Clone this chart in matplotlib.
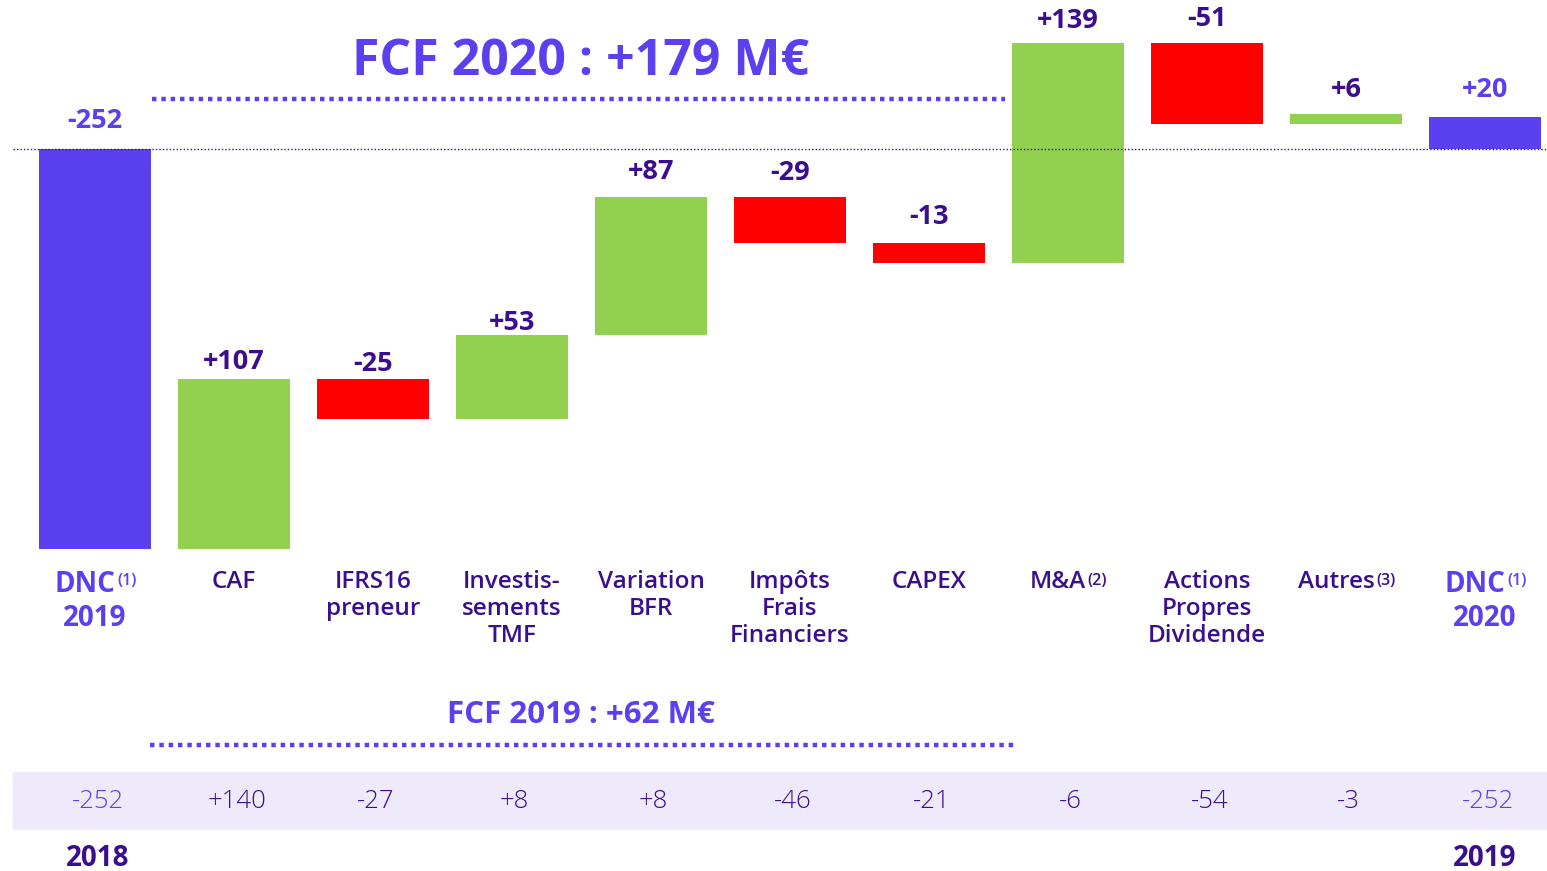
import matplotlib
matplotlib.use("Agg")
import matplotlib.pyplot as plt
from matplotlib.transforms import blended_transform_factory, offset_copy

# ---------------- data ----------------
categories = ["DNC\n2019", "CAF", "IFRS16\npreneur", "Investis-\nsements\nTMF",
              "Variation\nBFR", "Impôts\nFrais\nFinanciers", "CAPEX", "M&A",
              "Actions\nPropres\nDividende", "Autres", "DNC\n2020"]
superscripts = ["(1)", "", "", "", "", "", "", "(2)", "", "(3)", "(1)"]
start_value = -252
deltas = [107, -25, 53, 87, -29, -13, 139, -51, 6]
end_value = 20
bar_labels = ["-252", "+107", "-25", "+53", "+87", "-29", "-13", "+139", "-51", "+6", "+20"]
prev_year_values = ["-252", "+140", "-27", "+8", "+8", "-46", "-21", "-6", "-54", "-3", "-252"]
title_2020 = "FCF 2020 : +179 M€"
title_2019 = "FCF 2019 : +62 M€"
year_left = "2018"
year_right = "2019"

# ---------------- style ----------------
PURPLE = "#5A40EE"
DARK = "#3A0E8C"
GREEN = "#92D050"
RED = "#FF0000"
BAND = "#EEEAFB"
FONT = ["Open Sans", "DejaVu Sans"]
plt.rcParams["font.family"] = FONT

W, H = 1547, 871
fig = plt.figure(figsize=(W / 100, H / 100), dpi=100)
ax = fig.add_axes([0, 0, 1, 1])
ax.set_axis_off()

# scale: 252 units == 400 px, zero line at y=149px, first bar center at x=95px, pitch 139px
K = 400 / 252
ax.set_ylim(-(H - 149) / K, 149 / K)
ax.set_xlim(-95 / 139, (W - 95) / 139)

def py(p):
    return 1 - p / H

tr = blended_transform_factory(ax.transData, fig.transFigure)
trf = fig.transFigure
renderer = fig.canvas.get_renderer()

# ---------------- bars ----------------
n = len(categories)
bottoms, heights, colors = [], [], []
bottoms.append(0); heights.append(start_value); colors.append(PURPLE)
level = start_value
for d in deltas:
    bottoms.append(level); heights.append(d)
    colors.append(GREEN if d >= 0 else RED)
    level += d
bottoms.append(0); heights.append(end_value); colors.append(PURPLE)

xs = list(range(n))
ax.bar(xs, heights, bottom=bottoms, width=0.8, color=colors, edgecolor="none", zorder=2)

# zero dotted line
ax.plot([(13 - 95) / 139, (W - 95) / 139], [0, 0], color=DARK, lw=1.0,
        linestyle=(0, (1, 1.5)), zorder=3)

# value labels above bars (baseline gap in px)
gaps = [21, 10, 8, 5, 18, 17, 19, 15, 17, 17, 20]
for i in range(n):
    top = max(bottoms[i], bottoms[i] + heights[i])
    col = PURPLE if i in (0, n - 1) else DARK
    ax.annotate(bar_labels[i], xy=(i, top), xytext=(0, gaps[i] * 0.72),
                textcoords="offset points", ha="center", va="baseline",
                fontsize=19.5, fontweight="bold", color=col, zorder=4)

# category labels
for i, c in enumerate(categories):
    big = i in (0, n - 1)
    col = PURPLE if big else DARK
    fs = 20 if big else 17.5
    fw = "bold" if big else "semibold"
    pitch = 34 if big else 28.5
    if superscripts[i]:
        lines = c.split("\n")
        s = ax.text(0, 0, superscripts[i], fontsize=11.5, fontweight="semibold", color=col)
        ws = s.get_window_extent(renderer).width
        s.remove()
        t1 = ax.text(i, py(570), lines[0], transform=offset_copy(tr, fig=fig, x=-ws / 2, units="dots"),
                     ha="center", va="top", fontsize=fs, fontweight=fw, color=col)
        ax.annotate(superscripts[i], xy=(1, 1), xycoords=t1, xytext=(1, -2),
                    textcoords="offset points", ha="left", va="top",
                    fontsize=11.5, color=col, fontweight="semibold")
        if len(lines) > 1:
            ax.text(i, py(570 + pitch), "\n".join(lines[1:]), transform=tr, ha="center",
                    va="top", fontsize=fs, fontweight=fw, color=col)
    else:
        ax.text(i, py(570), c, transform=tr, ha="center", va="top",
                fontsize=fs, fontweight=fw, color=col, linespacing=1.16,
                multialignment="center")

# title 2020 + dotted line
fig.text(581 / W, py(75), title_2020, ha="center", va="baseline", fontsize=36,
         fontweight="bold", color=PURPLE)
fig.add_artist(plt.Line2D([152 / W, 1005 / W], [py(99), py(99)], color=PURPLE, lw=3.2,
                          linestyle=(0, (1, 1.1)), transform=trf))

# FCF 2019 + dotted line
fig.text(581 / W, py(723), title_2019, ha="center", va="baseline", fontsize=22.5,
         fontweight="bold", color=PURPLE)
fig.add_artist(plt.Line2D([150 / W, 1018 / W], [py(745), py(745)], color=PURPLE, lw=3.2,
                          linestyle=(0, (1, 1.1)), transform=trf))

# previous-year band
fig.add_artist(plt.Rectangle((13 / W, py(829)), (W - 13) / W, (829 - 772) / H,
                             transform=trf, color=BAND, zorder=0))
for i, v in enumerate(prev_year_values):
    col = PURPLE if i in (0, n - 1) else DARK
    ax.text(i + 0.02, py(801), v, transform=tr, ha="center", va="center", fontsize=18.5,
            fontweight="light", color=col)

ax.text(0.02, py(858), year_left, transform=tr, ha="center", va="center", fontsize=20,
        fontweight="bold", color=DARK)
ax.text(n - 1, py(858), year_right, transform=tr, ha="center", va="center", fontsize=20,
        fontweight="bold", color=DARK)

fig.savefig("out.png", dpi=100)
